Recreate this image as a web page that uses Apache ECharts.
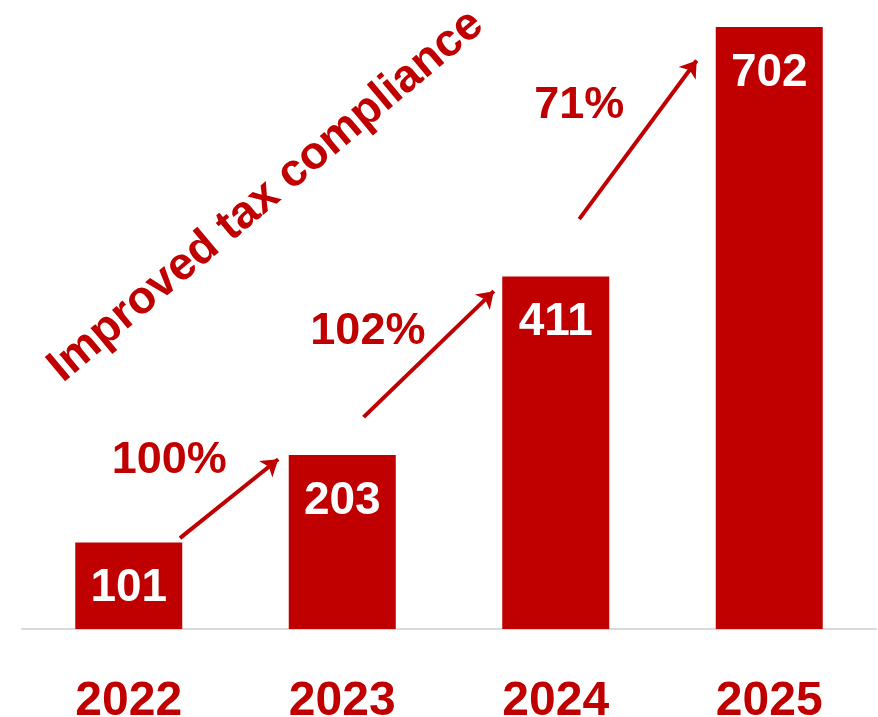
<!DOCTYPE html>
<html>
<head>
<meta charset="utf-8">
<script src="https://cdn.jsdelivr.net/npm/echarts@6/dist/echarts.min.js"></script>
<style>
  html, body { margin: 0; padding: 0; background: #fff; }
  #chart { width: 878px; height: 717px; }
</style>
</head>
<body>
<div id="chart"></div>
<script>
// data
const years = ['2022', '2023', '2024', '2025'];
const values = [101, 203, 411, 702];
const growthLabels = ['100%', '102%', '71%'];
// arrow ends in data units (x: category index, y: value)
const arrowStarts = [[0.24, 106], [1.10, 247], [2.11, 478]];
const arrowEnds = [[0.70, 198], [1.71, 394], [2.66, 663]];
// where the growth texts sit
const growthPos = [[0.19, 196], [1.12, 347], [2.11, 610]];
const titleText = 'Improved tax compliance';

const RED = '#C00000';
const FONT = '"Liberation Sans", Arial, sans-serif';

const chart = echarts.init(document.getElementById('chart'));

const option = {
  backgroundColor: '#fff',
  animation: false,
  grid: { left: 22, right: 2, top: 27, bottom: 88, containLabel: false, outerBoundsMode: 'none' },
  xAxis: [
    {
      type: 'category',
      data: years,
      axisTick: { show: false },
      axisLine: { lineStyle: { color: '#D9D9D9', width: 2 } },
      axisLabel: {
        color: RED,
        fontFamily: FONT,
        fontWeight: 'bold',
        fontSize: 48,
        margin: 49
      }
    },
    {
      type: 'value',
      min: -0.5,
      max: 3.5,
      show: false
    }
  ],
  yAxis: {
    type: 'value',
    min: 0,
    max: 702,
    show: false,
    splitLine: { show: false }
  },
  graphic: [
    {
      type: 'text',
      x: 266,
      y: 196,
      rotation: 40 * Math.PI / 180,
      style: {
        text: titleText,
        fill: RED,
        font: 'bold 46px ' + FONT,
        align: 'center',
        verticalAlign: 'middle'
      }
    }
  ],
  series: [
    {
      type: 'bar',
      data: values,
      barWidth: 107,
      itemStyle: { color: RED },
      label: {
        show: true,
        position: 'insideTop',
        distance: 23,
        color: '#fff',
        fontFamily: FONT,
        fontWeight: 'bold',
        fontSize: 46
      }
    },
    {
      type: 'lines',
      coordinateSystem: 'cartesian2d',
      xAxisIndex: 1,
      polyline: false,
      symbol: ['none', 'arrow'],
      symbolSize: 16,
      lineStyle: { color: RED, width: 4, opacity: 1 },
      data: arrowStarts.map((s, i) => ({ coords: [s, arrowEnds[i]] }))
    },
    {
      type: 'scatter',
      xAxisIndex: 1,
      symbolSize: 0,
      itemStyle: { opacity: 1 },
      data: growthPos.map((p, i) => ({ value: p, name: growthLabels[i] })),
      label: {
        show: true,
        position: 'inside',
        formatter: p => p.name,
        color: RED,
        opacity: 1,
        fontFamily: FONT,
        fontWeight: 'bold',
        fontSize: 45
      }
    }
  ]
};

chart.setOption(option);
</script>
</body>
</html>
